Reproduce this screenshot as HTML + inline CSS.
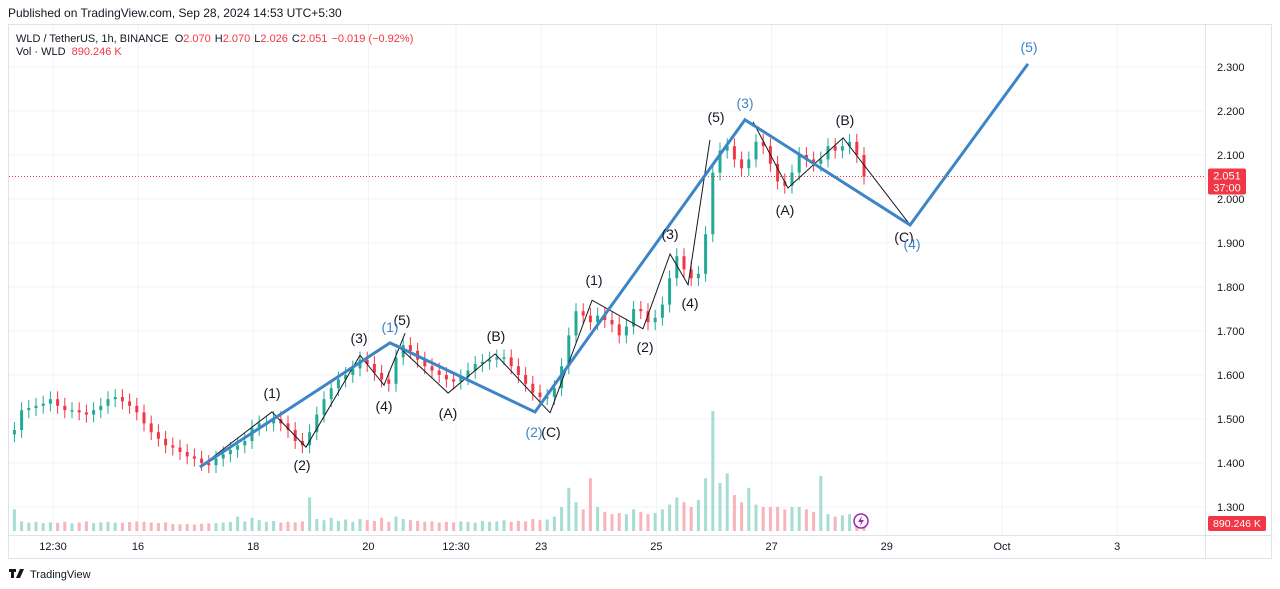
<!DOCTYPE html>
<html><head><meta charset="utf-8">
<style>
body{margin:0;background:#fff;font-family:"Liberation Sans",sans-serif;}
#wrap{position:relative;width:1280px;height:589px;overflow:hidden;}
svg text{font-family:"Liberation Sans",sans-serif;}
</style></head>
<body>
<div id="wrap">
<svg id="chart" width="1280" height="589">
<text x="8" y="17" font-size="12" fill="#131722">Published on TradingView.com, Sep 28, 2024 14:53 UTC+5:30</text>
<rect x="8.5" y="24.5" width="1263" height="534" fill="none" stroke="#e0e3eb"/>
<g id="grid"></g>
<g id="vol"></g>
<g id="candles"></g>
<g id="waves"></g>
<g id="axes"></g>
<text x="16" y="42" font-size="11" fill="#131722">WLD / TetherUS, 1h, BINANCE <tspan dx="3">O</tspan><tspan fill="#f23645">2.070</tspan><tspan dx="4">H</tspan><tspan fill="#f23645">2.070</tspan><tspan dx="4">L</tspan><tspan fill="#f23645">2.026</tspan><tspan dx="4">C</tspan><tspan fill="#f23645">2.051</tspan><tspan dx="4" fill="#f23645">−0.019 (−0.92%)</tspan></text>
<text x="16" y="55" font-size="11" fill="#131722">Vol · WLD <tspan dx="3" fill="#f23645">890.246 K</tspan></text>
<g>
<rect x="9" y="569" width="7" height="3" fill="#131722"/>
<rect x="11" y="569" width="3" height="9" fill="#131722"/>
<polygon points="16,578 20,569 24,569 20,578" fill="#131722"/>
<text x="30" y="578" font-size="11" fill="#131722">TradingView</text>
</g>
</svg>
</div>
<script>
const closes=[1.475,1.52,1.525,1.53,1.535,1.545,1.53,1.52,1.52,1.515,1.51,1.52,1.53,1.545,1.55,1.54,1.53,1.515,1.49,1.47,1.455,1.44,1.435,1.425,1.415,1.41,1.40,1.395,1.41,1.42,1.43,1.44,1.45,1.48,1.49,1.49,1.50,1.49,1.475,1.45,1.44,1.47,1.51,1.545,1.57,1.59,1.60,1.615,1.635,1.625,1.605,1.59,1.58,1.64,1.668,1.655,1.635,1.62,1.61,1.60,1.59,1.585,1.595,1.61,1.625,1.63,1.635,1.64,1.64,1.62,1.60,1.58,1.56,1.55,1.55,1.57,1.62,1.69,1.745,1.735,1.72,1.735,1.725,1.715,1.69,1.71,1.75,1.745,1.72,1.73,1.76,1.82,1.87,1.84,1.82,1.83,1.92,2.06,2.11,2.12,2.09,2.07,2.09,2.13,2.12,2.08,2.04,2.03,2.06,2.10,2.09,2.08,2.09,2.12,2.11,2.12,2.13,2.10,2.051];
const volumes=[900,400,350,380,330,360,340,380,320,350,400,330,360,380,350,340,370,400,380,350,330,360,300,280,300,270,300,320,330,350,380,600,400,550,450,380,420,350,380,360,400,1400,500,450,550,420,480,380,500,450,420,550,380,600,500,450,420,380,400,350,380,360,400,380,350,420,380,400,450,380,420,400,500,450,480,600,1000,1800,1200,900,2200,1000,800,700,750,700,900,800,700,750,900,1100,1400,1200,1000,1300,2200,5000,2000,2400,1500,1200,1800,1100,1000,1000,1000,900,1000,1000,900,800,2300,700,600,650,700,600,700];
const priceTicks=[1.3,1.4,1.5,1.6,1.7,1.8,1.9,2.0,2.1,2.2,2.3];
const timeTickHours=[-35.4,0,48,96,132.5,168,216,264,312,360,408];
const timeTickLabels=["12:30","16","18","20","12:30","23","25","27","29","Oct","3"];
const blueWaveT=[25.8,105,165.4,252.9,321.7,370.8];
const blueWaveP=[1.391,1.673,1.516,2.180,1.941,2.307];
const sub1T=[25.8,55.8,70,92.5,102.5,111.3];
const sub1P=[1.391,1.516,1.436,1.645,1.577,1.695];
const subABC1T=[107.5,129.2,148.8,171.7];
const subABC1P=[1.670,1.559,1.648,1.514];
const sub3T=[171.7,189.2,210.4,221.7,229.2,238.3];
const sub3P=[1.514,1.770,1.705,1.875,1.805,2.134];
const subABC3T=[256.3,270.8,293.8,321.7];
const subABC3P=[2.175,2.025,2.139,1.941];
const startHour=-53, stepHours=3;
const NS="http://www.w3.org/2000/svg";
const X=t=>138+t*2.4;
const Y=p=>67+(2.3-p)*440;
const VB=531, VK=0.024;
function mk(tag,attrs,parent){const e=document.createElementNS(NS,tag);for(const k in attrs)e.setAttribute(k,attrs[k]);parent.appendChild(e);return e;}
const grid=document.getElementById('grid'),axes=document.getElementById('axes');
priceTicks.forEach(p=>{
  const l=mk('line',{x1:9,x2:1205,y1:Y(p),y2:Y(p),stroke:'#f0f3fa'},grid);
  
  
  const t=mk('text',{x:1217,y:Y(p)+4,'font-size':11,fill:'#131722'},axes);
  t.textContent=p.toFixed(3);
  
  
});
timeTickHours.forEach((h,i)=>{
  const l=mk('line',{x1:X(h),x2:X(h),y1:25,y2:535,stroke:'#f0f3fa'},grid);
  
  
  const t=mk('text',{x:X(h),y:550,'font-size':11,fill:'#131722','text-anchor':'middle'},axes);
  t.textContent=timeTickLabels[i];
  
  
});
const ax=mk('line',{x1:9,x2:1271,y1:535.5,y2:535.5,stroke:'#e0e3eb'},axes);


const ay=mk('line',{x1:1205.5,x2:1205.5,y1:25,y2:558,stroke:'#e0e3eb'},axes);


const vg=document.getElementById('vol'),cg=document.getElementById('candles');
const bw=stepHours*2.4;
closes.forEach((c,i)=>{
  const o=i?closes[i-1]:c-0.01;
  const up=c>=o;
  const col=up?'#22ab94':'#f23645';
  const cx=X(startHour+i*stepHours)+bw/2;
  const v=mk('rect',{x:cx-1.5,y:VB-volumes[i]*VK,width:3,height:volumes[i]*VK,fill:up?'#a6ddd2':'#f9b4b9'},vg);
  
  
  const hi=Math.max(o,c)+0.018,lo=Math.min(o,c)-0.018;
  const w=mk('line',{x1:cx,x2:cx,y1:Y(hi),y2:Y(lo),stroke:col,'stroke-width':1},cg);
  
  
  const b=mk('rect',{x:cx-1.5,y:Y(Math.max(o,c)),width:3,height:Math.max(1.5,Math.abs(Y(o)-Y(c))),fill:col},cg);
  
  
});
const last=closes[closes.length-1];
const pl=mk('line',{x1:9,x2:1205,y1:Y(last),y2:Y(last),stroke:'#f23645','stroke-dasharray':'1 2'},cg);


const tag=mk('rect',{x:1208,y:Y(last)-8,width:38,height:26,rx:2,fill:'#f23645'},axes);


const t1=mk('text',{x:1227,y:Y(last)+3,'font-size':11,fill:'#fff','text-anchor':'middle'},axes);t1.textContent=last.toFixed(3);


const t2=mk('text',{x:1227,y:Y(last)+15,'font-size':11,fill:'#fff','text-anchor':'middle'},axes);t2.textContent='37:00';


const vt=mk('rect',{x:1208,y:516,width:58,height:15,rx:2,fill:'#f23645'},axes);


const vtt=mk('text',{x:1237,y:527,'font-size':10.5,fill:'#fff','text-anchor':'middle'},axes);vtt.textContent='890.246 K';


const ic=mk('circle',{cx:861,cy:521,r:7,fill:'#fff',stroke:'#9c27b0','stroke-width':1.5},axes);


const ip=mk('path',{d:'M862,516 L858,522 L861,522 L860,526 L864,520 L861,520 Z',fill:'#9c27b0'},axes);


const wg=document.getElementById('waves');
function poly(T,P,stroke,sw,name){
  const pts=T.map((t,i)=>X(t)+','+Y(P[i])).join(' ');
  const e=mk('polyline',{points:pts,fill:'none',stroke:stroke,'stroke-width':sw,'stroke-linejoin':'miter'},wg);
  
  
}
poly(sub1T,sub1P,'#131722',1,'wave-1-subwaves');
poly(subABC1T,subABC1P,'#131722',1,'wave-2-abc');
poly(sub3T,sub3P,'#131722',1,'wave-3-subwaves');
poly(subABC3T,subABC3P,'#131722',1,'wave-4-abc');
poly(blueWaveT,blueWaveP,'#3d85c6',3,'primary-wave-line');
const labels=[["(1)",272,398,'#131722'],["(2)",302,470,'#131722'],["(3)",359,343,'#131722'],["(4)",384,411,'#131722'],["(5)",402,325,'#131722'],["(A)",448,418,'#131722'],["(B)",496,341,'#131722'],["(C)",551,437,'#131722'],["(1)",594,285,'#131722'],["(2)",645,352,'#131722'],["(3)",670,239,'#131722'],["(4)",690,308,'#131722'],["(5)",716,122,'#131722'],["(A)",785,215,'#131722'],["(B)",845,125,'#131722'],["(C)",904,242,'#131722'],
["(1)",390,332,'#3d85c6'],["(2)",534,437,'#3d85c6'],["(3)",745,108,'#3d85c6'],["(4)",912,249,'#3d85c6'],["(5)",1029,52,'#3d85c6']];
labels.forEach(l=>{
  const t=mk('text',{x:l[1],y:l[2],'font-size':14,fill:l[3],'text-anchor':'middle'},wg);
  t.textContent=l[0];
  
  
});
</script>
</body></html>
